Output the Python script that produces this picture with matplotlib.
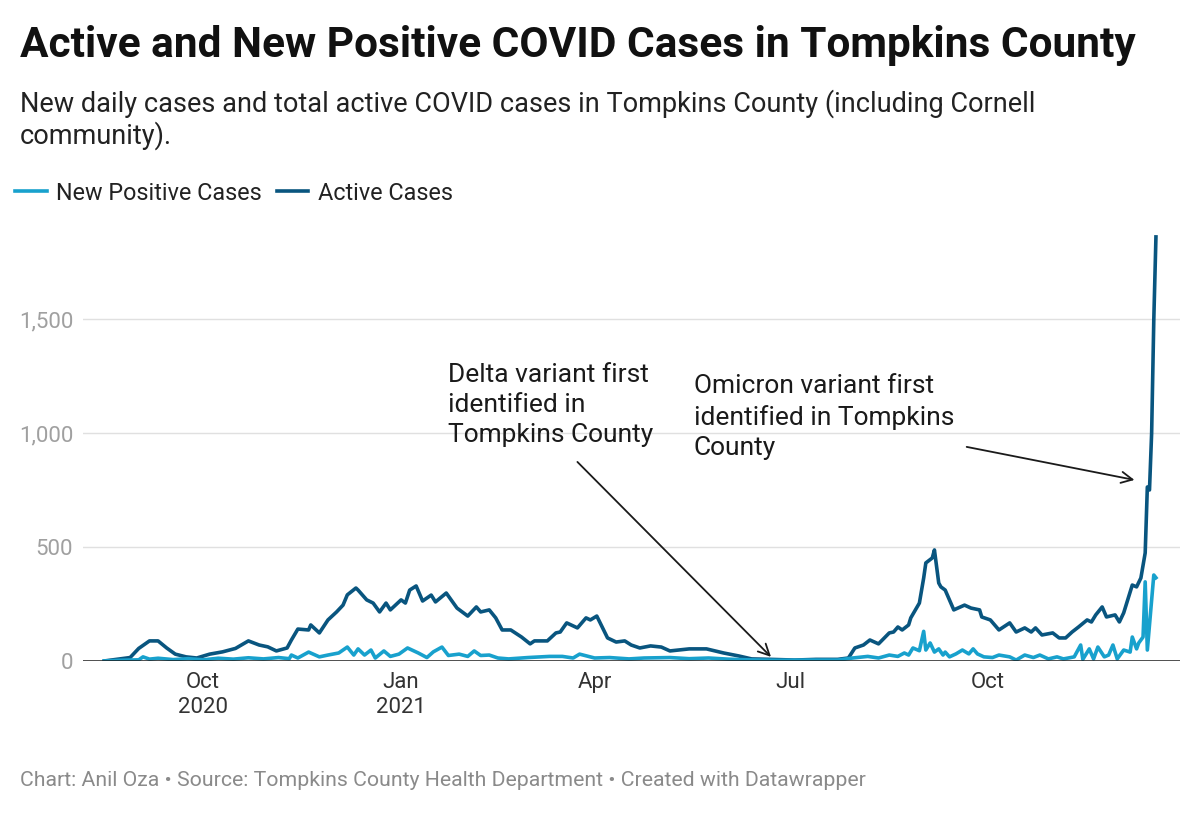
import numpy as np
import pandas as pd
import matplotlib
matplotlib.use("Agg")
import matplotlib.pyplot as plt

# values
active_dates = [
    "2020-08-16", "2020-08-28", "2020-09-01", "2020-09-06", "2020-09-10", "2020-09-14",
    "2020-09-18", "2020-09-23", "2020-09-28", "2020-10-04", "2020-10-10", "2020-10-16",
    "2020-10-22", "2020-10-27", "2020-10-31", "2020-11-04", "2020-11-09", "2020-11-11",
    "2020-11-14", "2020-11-19", "2020-11-20", "2020-11-24", "2020-11-28", "2020-12-02",
    "2020-12-05", "2020-12-07", "2020-12-11", "2020-12-12", "2020-12-16", "2020-12-19",
    "2020-12-22", "2020-12-25", "2020-12-27", "2021-01-01", "2021-01-03", "2021-01-05",
    "2021-01-08", "2021-01-11", "2021-01-15", "2021-01-17", "2021-01-22", "2021-01-27",
    "2021-02-01", "2021-02-05", "2021-02-07", "2021-02-11", "2021-02-14", "2021-02-17",
    "2021-02-21", "2021-02-26", "2021-03-02", "2021-03-04", "2021-03-10", "2021-03-14",
    "2021-03-16", "2021-03-19", "2021-03-24", "2021-03-28", "2021-03-30", "2021-04-02",
    "2021-04-07", "2021-04-11", "2021-04-15", "2021-04-18", "2021-04-22", "2021-04-27",
    "2021-05-02", "2021-05-06", "2021-05-15", "2021-05-23", "2021-05-31", "2021-06-07",
    "2021-06-13", "2021-06-22", "2021-07-03", "2021-07-13", "2021-07-23", "2021-07-28",
    "2021-07-31", "2021-08-04", "2021-08-07", "2021-08-11", "2021-08-16", "2021-08-18",
    "2021-08-20", "2021-08-22", "2021-08-25", "2021-08-26", "2021-08-30", "2021-09-01",
    "2021-09-02", "2021-09-05", "2021-09-06", "2021-09-08", "2021-09-09", "2021-09-11",
    "2021-09-15", "2021-09-20", "2021-09-23", "2021-09-27", "2021-09-28", "2021-10-02",
    "2021-10-06", "2021-10-11", "2021-10-14", "2021-10-18", "2021-10-21", "2021-10-23",
    "2021-10-26", "2021-10-31", "2021-11-03", "2021-11-06", "2021-11-09", "2021-11-12",
    "2021-11-16", "2021-11-18", "2021-11-20", "2021-11-23", "2021-11-25", "2021-11-29",
    "2021-12-01", "2021-12-03", "2021-12-07", "2021-12-09", "2021-12-11", "2021-12-13",
    "2021-12-14", "2021-12-15", "2021-12-16", "2021-12-17", "2021-12-18",
]
active_cases = [
    0, 15, 55, 88, 88, 57,
    30, 18, 13, 30, 40, 55,
    88, 70, 62, 44, 57, 92,
    140, 136, 158, 123, 180, 215,
    245, 290, 320, 311, 268, 254,
    215, 254, 224, 268, 254, 311,
    329, 263, 289, 259, 298, 232,
    197, 237, 215, 224, 189, 136,
    136, 105, 75, 88, 88, 123,
    127, 167, 145, 189, 180, 197,
    101, 83, 88, 70, 57, 66,
    61, 44, 53, 53, 35, 22,
    9, 7, 4, 7, 7, 13,
    57, 70, 92, 75, 123, 127,
    149, 136, 158, 189, 254, 364,
    430, 452, 487, 342, 325, 311,
    224, 245, 232, 224, 193, 180,
    136, 167, 127, 145, 127, 145,
    114, 123, 101, 101, 127, 149,
    180, 171, 202, 237, 193, 202,
    171, 211, 333, 325, 364, 474,
    763, 750, 1000, 1496, 1860,
]

new_dates = [
    "2020-08-16", "2020-08-23", "2020-09-01", "2020-09-03", "2020-09-06", "2020-09-10",
    "2020-09-17", "2020-09-24", "2020-10-01", "2020-10-08", "2020-10-15", "2020-10-22",
    "2020-10-29", "2020-11-05", "2020-11-10", "2020-11-11", "2020-11-14", "2020-11-19",
    "2020-11-24", "2020-11-28", "2020-12-03", "2020-12-07", "2020-12-10", "2020-12-12",
    "2020-12-15", "2020-12-18", "2020-12-20", "2020-12-24", "2020-12-27", "2020-12-31",
    "2021-01-04", "2021-01-09", "2021-01-13", "2021-01-16", "2021-01-20", "2021-01-23",
    "2021-01-28", "2021-02-01", "2021-02-04", "2021-02-07", "2021-02-11", "2021-02-15",
    "2021-02-20", "2021-03-01", "2021-03-11", "2021-03-17", "2021-03-22", "2021-03-25",
    "2021-04-01", "2021-04-08", "2021-04-17", "2021-04-24", "2021-05-06", "2021-05-15",
    "2021-05-24", "2021-06-02", "2021-06-11", "2021-06-25", "2021-07-09", "2021-07-23",
    "2021-07-30", "2021-08-06", "2021-08-11", "2021-08-16", "2021-08-20", "2021-08-23",
    "2021-08-25", "2021-08-27", "2021-08-30", "2021-09-01", "2021-09-02", "2021-09-04",
    "2021-09-06", "2021-09-08", "2021-09-10", "2021-09-11", "2021-09-13", "2021-09-16",
    "2021-09-19", "2021-09-22", "2021-09-24", "2021-09-26", "2021-09-29", "2021-10-03",
    "2021-10-06", "2021-10-11", "2021-10-14", "2021-10-18", "2021-10-22", "2021-10-25",
    "2021-10-29", "2021-11-02", "2021-11-05", "2021-11-10", "2021-11-13", "2021-11-14",
    "2021-11-17", "2021-11-19", "2021-11-21", "2021-11-24", "2021-11-26", "2021-11-28",
    "2021-11-30", "2021-12-03", "2021-12-06", "2021-12-07", "2021-12-09", "2021-12-10",
    "2021-12-12", "2021-12-13", "2021-12-14", "2021-12-17", "2021-12-18",
]
new_cases = [
    0, 3, 5, 18, 8, 12,
    6, 10, 5, 12, 8, 14,
    9, 15, 10, 26, 13, 39,
    18, 26, 35, 61, 26, 53,
    26, 48, 13, 44, 20, 30,
    57, 35, 15, 40, 61, 24,
    30, 20, 44, 24, 26, 13,
    9, 15, 20, 20, 13, 30,
    13, 15, 9, 13, 15, 10,
    13, 8, 5, 3, 4, 4,
    13, 20, 13, 26, 20, 35,
    26, 57, 45, 130, 48, 79,
    39, 53, 26, 39, 18, 31,
    48, 31, 53, 31, 18, 15,
    26, 18, 4, 26, 15, 26,
    9, 18, 9, 18, 70, 7,
    53, 9, 61, 18, 26, 70,
    9, 48, 39, 105, 53, 79,
    105, 347, 48, 377, 365,
]

tick_dates = ["2020-10-01", "2021-01-01", "2021-04-01", "2021-07-01", "2021-10-01"]
tick_labels = ["Oct\n2020", "Jan\n2021", "Apr", "Jul", "Oct"]
y_ticks = [0, 500, 1000, 1500]

LIGHT = "#18a1cd"
DARK = "#09557f"
INK = "#1a1a1a"
plt.rcParams["font.family"] = ["Roboto", "DejaVu Sans"]

fig = plt.figure(figsize=(12, 8.13), dpi=100)
ax = fig.add_axes([0.069, 0.187, 0.914, 0.530])

l1, = ax.plot(pd.to_datetime(new_dates), new_cases, color=LIGHT, lw=2.6,
              label="New Positive Cases", solid_joinstyle="round", zorder=3)
l2, = ax.plot(pd.to_datetime(active_dates), active_cases, color=DARK, lw=2.6,
              label="Active Cases", solid_joinstyle="round", zorder=2)

ax.set_xlim(pd.Timestamp("2020-08-06"), pd.Timestamp("2021-12-29"))
ax.set_ylim(0, 1890)

for s in ax.spines.values():
    s.set_visible(False)
ax.axhline(0, color=INK, lw=1.8, zorder=4)
for v in y_ticks[1:]:
    ax.axhline(v, color="#e0e0e0", lw=1, zorder=0)

ax.set_yticks(y_ticks)
ax.set_yticklabels([f"{v:,}" for v in y_ticks])
ax.tick_params(axis="y", length=0, pad=7, labelsize=16, labelcolor="#a0a0a0")
ax.set_xticks(pd.to_datetime(tick_dates))
ax.set_xticklabels(tick_labels)
ax.tick_params(axis="x", length=0, pad=8, labelsize=16, labelcolor="#333333")
for t in ax.get_xticklabels():
    t.set_linespacing(1.25)

# annotations
arrow = dict(arrowstyle="->", color=INK, lw=1.3, shrinkA=0, shrinkB=0, mutation_scale=20)
ax.text(pd.Timestamp("2021-01-23"), 1123, "Delta variant first\nidentified in\nTompkins County",
        fontsize=19, color=INK, linespacing=1.32, ha="left", va="center")
ax.annotate("", xy=(pd.Timestamp("2021-06-22"), 18), xytext=(pd.Timestamp("2021-03-24"), 873),
            arrowprops=arrow)
ax.text(pd.Timestamp("2021-05-17"), 1070, "Omicron variant first\nidentified in Tompkins\nCounty",
        fontsize=19, color=INK, linespacing=1.32, ha="left", va="center")
ax.annotate("", xy=(pd.Timestamp("2021-12-08"), 794), xytext=(pd.Timestamp("2021-09-21"), 939),
            arrowprops=arrow)

fig.text(20 / 1200, 1 - 45 / 813, "Active and New Positive COVID Cases in Tompkins County",
         fontsize=30.5, fontweight="bold", color="#111111", ha="left", va="center")
fig.text(20 / 1200, 1 - 120 / 813,
         "New daily cases and total active COVID cases in Tompkins County (including Cornell\ncommunity).",
         fontsize=19.5, color="#222222", ha="left", va="center", linespacing=1.15)
fig.legend(handles=[l1, l2], loc="center left", bbox_to_anchor=(-6 / 1200, 1 - 193 / 813),
           ncol=2, frameon=False, fontsize=16.8, handlelength=1.35, handletextpad=0.4,
           columnspacing=0.65, labelcolor="#222222")
fig.text(20 / 1200, 1 - 780 / 813,
         "Chart: Anil Oza \u2022 Source: Tompkins County Health Department \u2022 Created with Datawrapper",
         fontsize=15.3, color="#8a8a8a", ha="left", va="center")

fig.savefig("out.png", dpi=100, facecolor="white")
